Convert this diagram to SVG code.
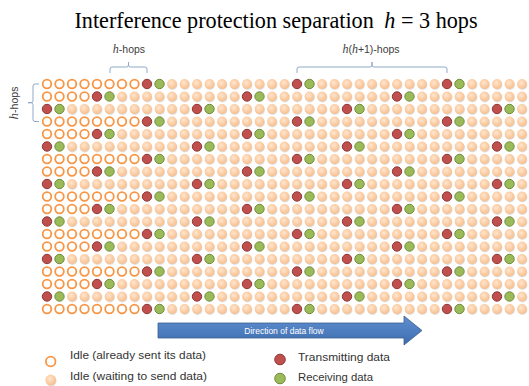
<svg xmlns="http://www.w3.org/2000/svg" xmlns:xlink="http://www.w3.org/1999/xlink" width="529" height="386" viewBox="0 0 529 386">
<style>
.lbl{font-family:"Liberation Sans",Arial,sans-serif;font-size:10.5px;fill:#404040}
.leg{font-family:"Liberation Sans",Arial,sans-serif;font-size:10.5px;fill:#333333}
.brace{fill:none;stroke:#8FA9C9;stroke-width:1}
.it{font-family:"Liberation Serif","Times New Roman",serif;font-style:italic}
</style>
<defs>
<radialGradient id="gIdle" cx="0.42" cy="0.38" r="0.65">
<stop offset="0" stop-color="#FFE6CF"/>
<stop offset="1" stop-color="#F8BD8A"/>
</radialGradient>
<linearGradient id="gArrow" x1="0" y1="0" x2="0" y2="1">
<stop offset="0" stop-color="#5F8FD0"/>
<stop offset="1" stop-color="#3E6DAE"/>
</linearGradient>
<circle id="ring" r="4.3" fill="#FFFFFF" stroke="#F79646" stroke-width="1.8"/>
<g id="idle"><circle cx="0.5" cy="1" r="4.9" fill="#000" opacity="0.13"/><circle r="4.9" fill="url(#gIdle)"/></g>
<g id="tr"><circle r="4.7" fill="#C0504D" stroke="#8E3735" stroke-width="1"/><circle cx="12.5" r="4.7" fill="#9BBB59" stroke="#6F8A3C" stroke-width="1"/></g>
<g id="r4"><use href="#ring"/><use href="#ring" x="12.5"/><use href="#ring" x="25"/><use href="#ring" x="37.5"/></g>
<g id="i5"><use href="#idle"/><use href="#idle" x="12.5"/><use href="#idle" x="25"/><use href="#idle" x="37.5"/><use href="#idle" x="50"/></g>
<g id="i10"><use href="#i5"/><use href="#i5" x="62.5"/></g>
<g id="rowA"><use href="#r4" x="47"/><use href="#r4" x="97"/><use href="#tr" x="147"/><use href="#i10" x="172"/><use href="#tr" x="297"/><use href="#i10" x="322"/><use href="#tr" x="447"/><use href="#i5" x="472"/></g>
<g id="rowB"><use href="#r4" x="47"/><use href="#tr" x="97"/><use href="#i10" x="122"/><use href="#tr" x="247"/><use href="#i10" x="272"/><use href="#tr" x="397"/><use href="#i5" x="422"/><use href="#idle" x="484.5"/><use href="#idle" x="497"/><use href="#idle" x="509.5"/><use href="#idle" x="522"/></g>
<g id="rowC"><use href="#tr" x="47"/><use href="#i10" x="72"/><use href="#tr" x="197"/><use href="#i10" x="222"/><use href="#tr" x="347"/><use href="#i10" x="372"/><use href="#tr" x="497"/><use href="#idle" x="522"/></g>
</defs>
<rect width="529" height="386" fill="#FFFFFF"/>
<g id="title">
<text x="276" y="28" text-anchor="middle" font-family="'Liberation Serif','Times New Roman',serif" font-size="22.2" fill="#000">Interference protection separation <tspan dx="5" font-style="italic">h</tspan> = 3 hops</text>
</g>
<g id="brace-h">
<path class="brace" d="M110,73 V69 Q110,67 112,67 H126.5 Q128.5,67 128.5,65 V62 V65 Q128.5,67 130.5,67 H145 Q147,67 147,69 V73"/>
<text class="lbl" x="129" y="53" text-anchor="middle"><tspan class="it" font-size="12">h</tspan>-hops</text>
</g>
<g id="brace-hh1">
<path class="brace" d="M297,73 V69 Q297,67 299,67 H370 Q372,67 372,65 V62 V65 Q372,67 374,67 H445 Q447,67 447,69 V73"/>
<text class="lbl" x="371" y="53" text-anchor="middle"><tspan class="it" font-size="12">h</tspan>(<tspan class="it" font-size="12">h</tspan>+1)-hops</text>
</g>
<g id="brace-v">
<path class="brace" d="M39,84 H35 Q33,84 33,86 V100.7 Q33,102.7 31,102.7 H28 H31 Q33,102.7 33,104.7 V119.5 Q33,121.5 35,121.5 H39"/>
<text class="lbl" transform="translate(18,103) rotate(-90)" text-anchor="middle" font-size="11.5"><tspan class="it" font-size="13">h</tspan>-hops</text>
</g>
<g id="grid">
<use href="#rowA" y="84"/>
<use href="#rowB" y="96.5"/>
<use href="#rowC" y="109"/>
<use href="#rowA" y="121.5"/>
<use href="#rowB" y="134"/>
<use href="#rowC" y="146.5"/>
<use href="#rowA" y="159"/>
<use href="#rowB" y="171.5"/>
<use href="#rowC" y="184"/>
<use href="#rowA" y="196.5"/>
<use href="#rowB" y="209"/>
<use href="#rowC" y="221.5"/>
<use href="#rowA" y="234"/>
<use href="#rowB" y="246.5"/>
<use href="#rowC" y="259"/>
<use href="#rowA" y="271.5"/>
<use href="#rowB" y="284"/>
<use href="#rowC" y="296.5"/>
<use href="#rowA" y="309"/>
</g>
<g id="flow-arrow">
<path d="M158,323 H404 V316 L422,330.5 L404,345 V338 H158 Z" fill="url(#gArrow)" stroke="#3A5F8F" stroke-width="0.8"/>
<text x="284" y="333.5" text-anchor="middle" font-family="'Liberation Sans',Arial,sans-serif" font-size="8.5" fill="#FFFFFF">Direction of data flow</text>
</g>
<g id="legend">
<circle cx="50.7" cy="361.5" r="4.8" fill="#FFFFFF" stroke="#F79646" stroke-width="1.8"/>
<circle cx="51.2" cy="381" r="5.4" fill="#000" opacity="0.13"/>
<circle cx="50.7" cy="380" r="5.4" fill="url(#gIdle)"/>
<circle cx="280" cy="359.5" r="5.3" fill="#C0504D" stroke="#8E3735" stroke-width="1"/>
<circle cx="280" cy="378.5" r="5.3" fill="#9BBB59" stroke="#6F8A3C" stroke-width="1"/>
<text class="leg" x="70" y="359" textLength="136" lengthAdjust="spacingAndGlyphs">Idle (already sent its data)</text>
<text class="leg" x="70" y="379.5" textLength="137" lengthAdjust="spacingAndGlyphs">Idle (waiting to send data)</text>
<text class="leg" x="298" y="360.5" textLength="92" lengthAdjust="spacingAndGlyphs">Transmitting data</text>
<text class="leg" x="298" y="381" textLength="75" lengthAdjust="spacingAndGlyphs">Receiving data</text>
</g>
</svg>
